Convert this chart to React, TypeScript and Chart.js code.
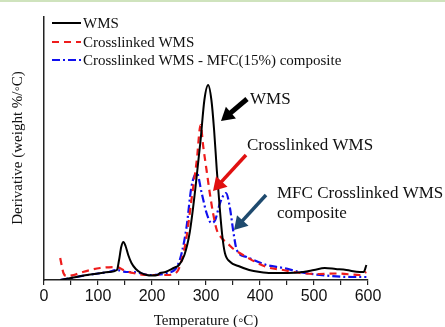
import React, { useEffect, useRef } from "react";
import { Chart, registerables } from "chart.js";

Chart.register(...registerables);

// Temperature (°C) and derivative weight (arbitrary units)
const wmsTemp = [30, 50, 80, 100, 120, 135, 139, 143, 147, 151, 156, 162, 170, 180, 190, 200, 210, 215, 225, 240, 250, 260, 270, 280, 290, 297, 304, 310, 315, 320, 325, 330, 335, 345, 360, 380, 400, 420, 450, 480, 500, 520, 540, 560, 585, 592, 597];
const wmsVal = [0, 2, 5, 6.5, 8, 10, 20, 33, 38, 34, 25, 17, 11, 7, 5, 4.5, 5, 7, 8, 12, 15, 25, 48, 90, 140, 180, 195, 180, 150, 110, 75, 45, 27, 18, 14, 10, 8, 7, 7, 8, 10, 12, 11, 10, 8, 8, 15];

const xlTemp = [30, 33, 36, 42, 55, 72, 104, 135, 147, 165, 196, 227, 246, 255, 264, 273, 283, 290, 295, 301, 307, 313, 320, 329, 341, 351, 375, 412, 443, 474, 510, 542, 585, 597];
const xlVal = [22, 14, 7, 4, 5, 8, 12, 13, 10, 7, 5, 5, 8, 20, 43, 80, 120, 155, 133, 110, 87, 67, 50, 42, 36, 31, 23, 13, 10, 7, 6, 6.5, 5, 8];

const mfcTemp = [30, 50, 80, 100, 120, 135, 153, 165, 196, 227, 246, 255, 264, 273, 283, 292, 301, 310, 317, 326, 337, 344, 351, 357, 375, 412, 443, 474, 511, 573, 597];
const mfcVal = [0, 2, 5, 6.5, 8, 10, 8, 8, 5, 7, 13, 27, 53, 93, 107, 87, 67, 57, 60, 77, 87, 73, 47, 30, 23, 15, 12, 8, 5, 3, 3];

const seriesNames = ["WMS", "Crosslinked WMS", "Crosslinked WMS - MFC(15%) composite"];
const xTickValues = [0, 100, 200, 300, 400, 500, 600];

const SERIF = "'Liberation Serif', 'Times New Roman', serif";
const SANS = "'Liberation Sans', Arial, sans-serif";

function toPoints(xs: number[], ys: number[]) {
  return xs.map((x, i) => ({ x, y: ys[i] }));
}

function drawArrow(ctx: CanvasRenderingContext2D, x1: number, y1: number, x2: number, y2: number, color: string, width: number, head: number) {
  const ang = Math.atan2(y2 - y1, x2 - x1);
  const bx = x2 - head * Math.cos(ang);
  const by = y2 - head * Math.sin(ang);
  ctx.save();
  ctx.strokeStyle = color;
  ctx.fillStyle = color;
  ctx.lineWidth = width;
  ctx.lineCap = "butt";
  ctx.beginPath();
  ctx.moveTo(x1, y1);
  ctx.lineTo(bx + 2 * Math.cos(ang), by + 2 * Math.sin(ang));
  ctx.stroke();
  ctx.beginPath();
  ctx.moveTo(x2, y2);
  const hw = head * 0.6;
  ctx.lineTo(bx + hw * Math.cos(ang + Math.PI / 2), by + hw * Math.sin(ang + Math.PI / 2));
  ctx.lineTo(bx + hw * Math.cos(ang - Math.PI / 2), by + hw * Math.sin(ang - Math.PI / 2));
  ctx.closePath();
  ctx.fill();
  ctx.restore();
}

const overlay = {
  id: "overlay",
  afterDraw(chart: any) {
    const ctx = chart.ctx as CanvasRenderingContext2D;
    ctx.save();
    ctx.fillStyle = "#cfe3bd";
    ctx.fillRect(0, 0, 445, 2);

    // legend
    const ds = chart.data.datasets;
    const rows = [23, 42, 60];
    ctx.font = `15px ${SERIF}`;
    ctx.textBaseline = "middle";
    ds.forEach((d: any, i: number) => {
      ctx.save();
      ctx.strokeStyle = d.borderColor;
      ctx.lineWidth = 2;
      ctx.setLineDash(d.borderDash || []);
      ctx.beginPath();
      ctx.moveTo(52, rows[i]);
      ctx.lineTo(81, rows[i]);
      ctx.stroke();
      ctx.restore();
      ctx.fillStyle = "#111";
      ctx.fillText(d.label, 83, rows[i] + 1);
    });

    // annotations
    ctx.font = `17px ${SERIF}`;
    ctx.fillStyle = "#111";
    ctx.fillText("WMS", 250, 100);
    ctx.fillText("Crosslinked WMS", 247, 146);
    ctx.fillText("MFC Crosslinked WMS", 277, 194);
    ctx.fillText("composite", 277, 214);
    drawArrow(ctx, 247, 99, 221, 121, "#000", 5, 13);
    drawArrow(ctx, 246, 155, 213, 191, "#e01010", 3.5, 13);
    drawArrow(ctx, 266, 195, 234, 230, "#1e4a6e", 3.5, 13);

    // axis titles
    ctx.font = `15px ${SERIF}`;
    ctx.textAlign = "center";
    ctx.fillText("Temperature (\u25E6C)", 206, 321);
    ctx.translate(18, 148);
    ctx.rotate(-Math.PI / 2);
    ctx.fillText("Derivative (weight %/\u25E6C)", 0, 0);
    ctx.restore();
  },
};

export default function App() {
  const ref = useRef<HTMLCanvasElement | null>(null);
  useEffect(() => {
    if (!ref.current) return;
    const chart = new Chart(ref.current, {
      type: "line",
      data: {
        datasets: [
          {
            label: seriesNames[0],
            data: toPoints(wmsTemp, wmsVal),
            borderColor: "#000000",
            borderWidth: 2,
            pointRadius: 0,
            tension: 0.4,
            cubicInterpolationMode: "monotone",
          },
          {
            label: seriesNames[1],
            data: toPoints(xlTemp, xlVal),
            borderColor: "#ee1c1c",
            borderWidth: 2.2,
            borderDash: [7, 5],
            pointRadius: 0,
            tension: 0.4,
            cubicInterpolationMode: "monotone",
          },
          {
            label: seriesNames[2],
            data: toPoints(mfcTemp, mfcVal),
            borderColor: "#1010ee",
            borderWidth: 2.2,
            borderDash: [8, 3, 2, 3],
            pointRadius: 0,
            tension: 0.4,
            cubicInterpolationMode: "monotone",
          },
        ] as any,
      },
      options: {
        animation: false,
        responsive: false,
        devicePixelRatio: 1,
        layout: { padding: { top: 17, right: 77, left: 0, bottom: 0 } },
        plugins: { legend: { display: false }, tooltip: { enabled: false } },
        scales: {
          x: {
            type: "linear",
            min: 0,
            max: 600,
            afterFit: (s: any) => { s.height = 47; },
            border: { display: true, color: "#222", width: 1.5 },
            grid: { display: true, drawOnChartArea: false, drawTicks: true, tickLength: 5, color: "#222", lineWidth: 1.2 },
            ticks: {
              stepSize: 50,
              autoSkip: false,
              maxRotation: 0,
              padding: 2,
              color: "#111",
              font: { family: SANS, size: 16 },
              callback: (v: any) => (xTickValues.includes(Number(v)) ? String(v) : ""),
            },
          },
          y: {
            min: 0,
            max: 263,
            afterFit: (s: any) => { s.width = 44; },
            border: { display: true, color: "#222", width: 1.5 },
            grid: { display: false },
            ticks: { display: false },
          },
        },
      } as any,
      plugins: [overlay],
    });
    return () => chart.destroy();
  }, []);
  return (
    <div style={{ position: "absolute", left: 0, top: 0, width: 445, height: 327, background: "#fff" }}>
      <canvas ref={ref} width={445} height={327} style={{ width: 445, height: 327 }} />
    </div>
  );
}
